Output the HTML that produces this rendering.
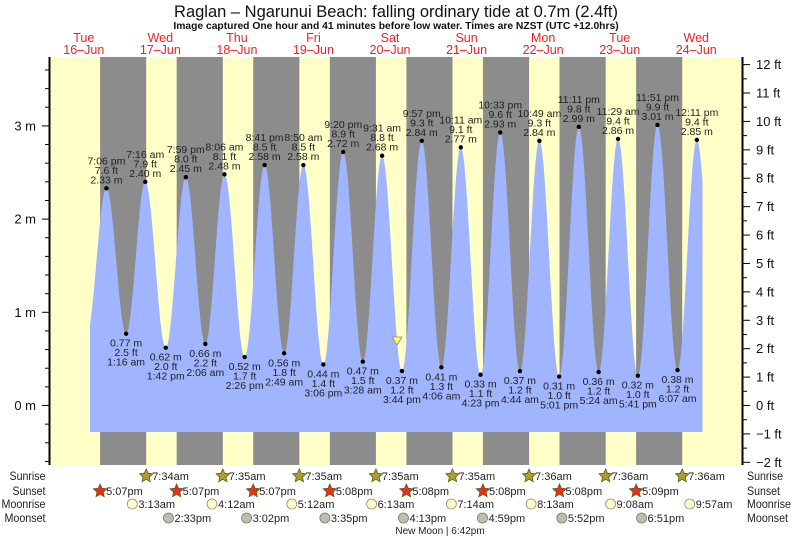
<!DOCTYPE html>
<html><head><meta charset="utf-8"><style>
html,body{margin:0;padding:0;background:#fff;}
svg{display:block;font-family:"Liberation Sans",sans-serif;}
</style></head><body>
<svg id="s" width="793" height="539" viewBox="0 0 793 539" xmlns="http://www.w3.org/2000/svg">
<text x="396" y="17" font-size="16.5" text-anchor="middle" fill="#111">Raglan – Ngarunui Beach: falling  ordinary tide at 0.7m (2.4ft)</text>
<text x="396" y="29" font-size="10.3" font-weight="bold" text-anchor="middle" fill="#111">Image captured One hour and 41 minutes before low water. Times are NZST (UTC +12.0hrs)</text>
</svg>
<script>
var S=document.getElementById('s'),NS='http://www.w3.org/2000/svg';
function el(n,a,t){var e=document.createElementNS(NS,n);for(var k in a)e.setAttribute(k,a[k]);if(t!==undefined)e.textContent=t;S.appendChild(e);return e;}
var X0=45.5,PH=3.19,Y0=405.5,PM=93.2;
function X(h){return X0+h*PH;}
function Y(m){return Y0-m*PM;}
function T(d,s){var m=s.match(/(\d+):(\d+)\s*(am|pm)/);var h=+m[1]%12+(m[3]=='pm'?12:0)+ +m[2]/60;return (d-16)*24+h;}
el('rect',{x:49.5,y:57,width:693,height:408,fill:'#ffffc8'});
var sunset=[[16,'5:07pm'],[17,'5:07pm'],[18,'5:07pm'],[19,'5:08pm'],[20,'5:08pm'],[21,'5:08pm'],[22,'5:08pm'],[23,'5:09pm']];
var sunrise=[[17,'7:34am'],[18,'7:35am'],[19,'7:35am'],[20,'7:35am'],[21,'7:35am'],[22,'7:36am'],[23,'7:36am'],[24,'7:36am']];
for(var i=0;i<8;i++){var a=X(T(sunset[i][0],sunset[i][1])),b=X(T(sunrise[i][0],sunrise[i][1]));el('rect',{x:a,y:57,width:b-a,height:408,fill:'#8c8c8c'});}
var tides=[[16,'7:06 pm',2.33,'7.6'],[17,'1:16 am',0.77,'2.5'],[17,'7:16 am',2.40,'7.9'],[17,'1:42 pm',0.62,'2.0'],[17,'7:59 pm',2.45,'8.0'],[18,'2:06 am',0.66,'2.2'],[18,'8:06 am',2.48,'8.1'],[18,'2:26 pm',0.52,'1.7'],[18,'8:41 pm',2.58,'8.5'],[19,'2:49 am',0.56,'1.8'],[19,'8:50 am',2.58,'8.5'],[19,'3:06 pm',0.44,'1.4'],[19,'9:20 pm',2.72,'8.9'],[20,'3:28 am',0.47,'1.5'],[20,'9:31 am',2.68,'8.8'],[20,'3:44 pm',0.37,'1.2'],[20,'9:57 pm',2.84,'9.3'],[21,'4:06 am',0.41,'1.3'],[21,'10:11 am',2.77,'9.1'],[21,'4:23 pm',0.33,'1.1'],[21,'10:33 pm',2.93,'9.6'],[22,'4:44 am',0.37,'1.2'],[22,'10:49 am',2.84,'9.3'],[22,'5:01 pm',0.31,'1.0'],[22,'11:11 pm',2.99,'9.8'],[23,'5:24 am',0.36,'1.2'],[23,'11:29 am',2.86,'9.4'],[23,'5:41 pm',0.32,'1.0'],[23,'11:51 pm',3.01,'9.9'],[24,'6:07 am',0.38,'1.2'],[24,'12:11 pm',2.85,'9.4']];
var pts=[[12.83,0.75]];tides.forEach(function(t){pts.push([T(t[0],t[1]),t[2]]);});pts.push([210.5,0.35]);
function H(t){for(var i=0;i<pts.length-1;i++){var p=pts[i],q=pts[i+1];if(t>=p[0]&&t<=q[0]){var f=(t-p[0])/(q[0]-p[0]);return p[1]+(q[1]-p[1])*(1-Math.cos(Math.PI*f))/2;}}return 0;}
var t0=(90-X0)/PH,t1=(702.5-X0)/PH,d='M90,432';
for(var t=t0;t<=t1;t+=0.05)d+=' L'+X(t).toFixed(2)+','+Y(H(t)).toFixed(2);
d+=' L'+X(t1).toFixed(2)+','+Y(H(t1)).toFixed(2)+' L702.5,432 Z';
el('path',{d:d,fill:'#a0b4ff'});
tides.forEach(function(t){var x=X(T(t[0],t[1])),y=Y(t[2]);el('circle',{cx:x,cy:y,r:2.2,fill:'#000'});
var hi=t[2]>1.5,fs=10.5,c='#222';var L=hi?[t[1],t[3]+' ft',t[2].toFixed(2)+' m']:[t[2].toFixed(2)+' m',t[3]+' ft',t[1]];
for(var j=0;j<3;j++){var yy=hi?y-5-(2-j)*9.5:y+13+j*9.5;el('text',{x:x,y:yy,'font-size':fs,'text-anchor':'middle',fill:c},L[j]);}});
el('path',{d:'M392,337 L402,337 L397,345 Z',fill:'#ffff50',stroke:'#888','stroke-width':0.8});
el('line',{x1:49.5,y1:57,x2:49.5,y2:465,stroke:'#000','stroke-width':2});
el('line',{x1:742.5,y1:57,x2:742.5,y2:465,stroke:'#000','stroke-width':2});
for(var m=-0.6;m<=3.8;m+=0.2){var y=Y(m);if(y<57||y>465)continue;var maj=Math.abs(m-Math.round(m))<0.01;el('line',{x1:maj?42:45,y1:y,x2:49.5,y2:y,stroke:'#000','stroke-width':1});if(maj)el('text',{x:36,y:y+4.5,'font-size':13,'text-anchor':'end',fill:'#111'},Math.round(m)+' m');}
for(var f=-2;f<=12.5;f+=0.5){var y=Y0-f*0.3048*PM;if(y<57||y>466)continue;var maj=f%1==0;el('line',{x1:742.5,y1:y,x2:maj?750:747,y2:y,stroke:'#000','stroke-width':1});if(maj)el('text',{x:756,y:y+4.5,'font-size':13,fill:'#111'},(f<0?'\u2212'+(-f):f)+' ft');}
var days=[['Tue','16\u2013Jun'],['Wed','17\u2013Jun'],['Thu','18\u2013Jun'],['Fri','19\u2013Jun'],['Sat','20\u2013Jun'],['Sun','21\u2013Jun'],['Mon','22\u2013Jun'],['Tue','23\u2013Jun'],['Wed','24\u2013Jun']];
days.forEach(function(d,i){var x=X(i*24+12);el('text',{x:x,y:42,'font-size':12.5,'text-anchor':'middle',fill:'#f02020'},d[0]);el('text',{x:x,y:54,'font-size':12.5,'text-anchor':'middle',fill:'#f02020'},d[1]);});
var rows=['Sunrise','Sunset','Moonrise','Moonset'],ry=[480,495,508,522],rw=[36,33,44,41];
rows.forEach(function(r,i){el('text',{x:45.5-rw[i],y:ry[i],'font-size':12,textLength:rw[i],lengthAdjust:'spacingAndGlyphs',fill:'#222'},r);el('text',{x:747,y:ry[i],'font-size':12,textLength:rw[i],lengthAdjust:'spacingAndGlyphs',fill:'#222'},r);});
function star(cx,cy,fill){var p='';for(var k=0;k<10;k++){var a=-Math.PI/2+k*Math.PI/5,r=k%2?3.3:7;p+=(k?'L':'M')+(cx+r*Math.cos(a)).toFixed(2)+','+(cy+r*Math.sin(a)).toFixed(2);}el('path',{d:p+'Z',fill:fill,stroke:'#6a5a10','stroke-width':0.8});}
sunrise.forEach(function(s){var x=X(T(s[0],s[1]));star(x,ry[0]-4,'#a8a030');el('text',{x:x+6,y:ry[0],'font-size':11,fill:'#222'},s[1]);});
sunset.forEach(function(s){var x=X(T(s[0],s[1]));star(x,ry[1]-4,'#e83020');el('text',{x:x+6,y:ry[1],'font-size':11,fill:'#222'},s[1]);});
var mr=[[17,'3:13am'],[18,'4:12am'],[19,'5:12am'],[20,'6:13am'],[21,'7:14am'],[22,'8:13am'],[23,'9:08am'],[24,'9:57am']];
var ms=[[17,'2:33pm'],[18,'3:02pm'],[19,'3:35pm'],[20,'4:13pm'],[21,'4:59pm'],[22,'5:52pm'],[23,'6:51pm']];
mr.forEach(function(s){var x=X(T(s[0],s[1]));el('circle',{cx:x,cy:ry[2]-4,r:5,fill:'#ffffc8',stroke:'#888','stroke-width':0.8});el('text',{x:x+6,y:ry[2],'font-size':11,fill:'#222'},s[1]);});
ms.forEach(function(s){var x=X(T(s[0],s[1]));el('circle',{cx:x,cy:ry[3]-4,r:5,fill:'#c0bcb0',stroke:'#777','stroke-width':0.8});el('text',{x:x+6,y:ry[3],'font-size':11,fill:'#222'},s[1]);});
el('text',{x:440,y:534,'font-size':10,'text-anchor':'middle',fill:'#222'},'New Moon | 6:42pm');
</script>
</body></html>
